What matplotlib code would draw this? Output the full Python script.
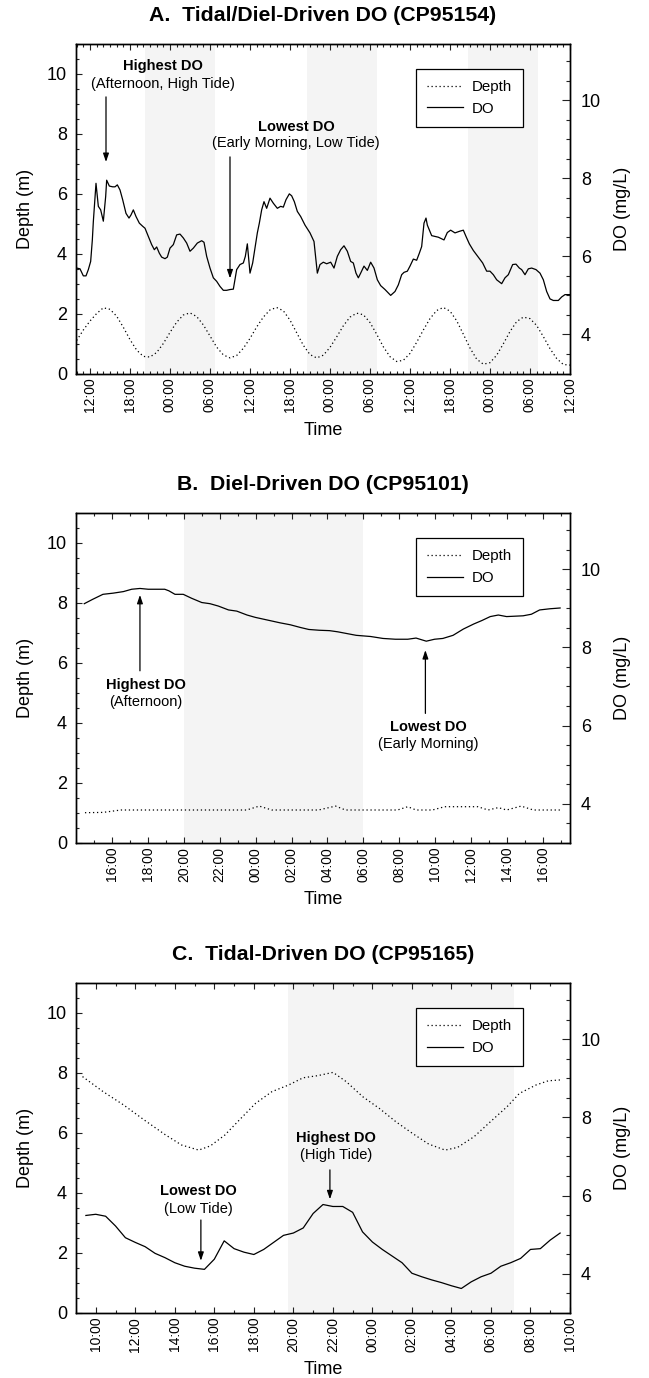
import numpy as np
import matplotlib
matplotlib.use("Agg")
import matplotlib.pyplot as plt
from matplotlib.ticker import MultipleLocator, FixedLocator
from matplotlib.lines import Line2D

plt.rcParams["font.family"] = ["Liberation Sans", "DejaVu Sans"]

# ---------------- Panel A: tidal/diel-driven (CP95154) ----------------
# hours relative to 12:00 on day 1
a_depth_hours = list(range(-2, 73))
a_depth = [1.10, 1.45, 1.75, 2.00, 2.19, 2.14, 1.91, 1.54, 1.13, 0.78,
           0.57, 0.55, 0.70, 1.00, 1.37, 1.71, 1.95, 2.02, 1.90, 1.62,
           1.25, 0.88, 0.62, 0.52, 0.60, 0.84, 1.17, 1.55, 1.88, 2.12,
           2.20, 2.09, 1.78, 1.36, 0.94, 0.63, 0.52, 0.61, 0.87, 1.22,
           1.59, 1.88, 2.01, 1.96, 1.70, 1.31, 0.89, 0.56, 0.40, 0.44,
           0.67, 1.04, 1.45, 1.83, 2.10, 2.20, 2.08, 1.76, 1.31, 0.85,
           0.48, 0.31, 0.36, 0.61, 0.99, 1.40, 1.73, 1.88, 1.83, 1.60,
           1.23, 0.83, 0.50, 0.30, 0.28]
a_do_hours = [-2.0, -1.5, -1.0, -0.6, -0.25, 0.1, 0.35, 0.5, 0.9, 1.25,
              1.6, 2.0, 2.35, 2.5, 2.9, 3.4, 3.75, 4.1, 4.5, 4.9,
              5.4, 5.85, 6.15, 6.5, 6.9, 7.4, 7.9, 8.25, 8.75, 9.25,
              9.65, 10.0, 10.4, 10.75, 11.25, 11.6, 12.0, 12.5, 13.0, 13.5,
              14.0, 14.5, 15.0, 15.5, 16.1, 16.75, 17.1, 17.5, 18.0, 18.5,
              19.0, 19.5, 20.0, 20.5, 21.0, 21.5, 22.0, 22.5, 23.0, 23.3,
              23.6, 24.0, 24.4, 24.75, 25.1, 25.4, 25.75, 26.1, 26.5, 27.0,
              27.5, 28.1, 28.6, 29.0, 29.4, 29.9, 30.25, 30.65, 31.1, 31.6,
              32.25, 33.0, 33.6, 34.1, 34.5, 35.0, 35.5, 36.1, 36.6, 37.1,
              37.6, 38.1, 38.6, 39.1, 39.5, 39.9, 40.25, 40.6, 41.1, 41.6,
              42.1, 42.6, 43.1, 43.6, 44.25, 45.1, 45.75, 46.25, 46.75, 47.1,
              47.6, 48.0, 48.5, 49.0, 49.4, 49.75, 50.1, 50.4, 50.6, 51.25,
              52.25, 53.1, 53.6, 54.1, 54.75, 55.4, 56.0, 56.4, 56.9, 57.5,
              58.25, 58.9, 59.5, 60.0, 60.5, 61.0, 61.75, 62.25, 62.75, 63.4,
              63.9, 64.4, 64.75, 65.25, 65.75, 66.25, 66.9, 67.5, 68.0, 68.5,
              69.0, 69.5, 70.25, 70.75, 71.25, 72.0]
a_do = [5.70, 5.68, 5.50, 5.50, 5.66, 5.87, 6.42, 6.89, 7.87, 7.28,
        7.19, 6.90, 7.53, 7.95, 7.80, 7.78, 7.78, 7.83, 7.70, 7.45,
        7.10, 6.98, 7.06, 7.19, 7.02, 6.85, 6.77, 6.72, 6.51, 6.30,
        6.17, 6.24, 6.08, 5.98, 5.94, 5.98, 6.21, 6.30, 6.55, 6.57,
        6.47, 6.34, 6.13, 6.21, 6.34, 6.40, 6.36, 6.00, 5.70, 5.45,
        5.36, 5.23, 5.13, 5.13, 5.15, 5.16, 5.66, 5.79, 5.83, 6.00,
        6.32, 5.57, 5.83, 6.21, 6.60, 6.85, 7.19, 7.40, 7.23, 7.49,
        7.36, 7.23, 7.28, 7.26, 7.45, 7.60, 7.55, 7.40, 7.15, 7.02,
        6.80, 6.60, 6.38, 5.57, 5.79, 5.85, 5.81, 5.85, 5.70, 6.00,
        6.17, 6.27, 6.13, 5.87, 5.83, 5.57, 5.45, 5.57, 5.75, 5.64,
        5.85, 5.70, 5.40, 5.25, 5.15, 5.00, 5.10, 5.27, 5.53, 5.59,
        5.62, 5.75, 5.93, 5.90, 6.08, 6.25, 6.85, 6.98, 6.80, 6.53,
        6.49, 6.42, 6.61, 6.67, 6.60, 6.64, 6.67, 6.51, 6.32, 6.15,
        5.98, 5.83, 5.62, 5.62, 5.53, 5.40, 5.30, 5.45, 5.53, 5.79,
        5.80, 5.70, 5.66, 5.53, 5.68, 5.70, 5.66, 5.57, 5.40, 5.10,
        4.91, 4.87, 4.87, 4.96, 5.02, 5.02]
a_nights = [(8.25, 18.75), (32.5, 43.1), (56.75, 67.25)]
a_ticks = list(range(0, 73, 6))
a_tick_labels = ["12:00", "18:00", "00:00", "06:00"] * 3 + ["12:00"]

# ---------------- Panel B: diel-driven (CP95101) ----------------
# hours relative to 16:00 on day 1
b_depth_hours = [-1.5, -0.5, 0.5, 1.5, 2.5, 3.5, 4.5, 5.5, 6.5, 7.5,
                 8.2, 8.9, 9.5, 10.5, 11.5, 12.45, 13.0, 14.0, 15.0, 15.9,
                 16.47, 16.93, 17.84, 18.53, 19.5, 20.37, 20.94, 21.51, 21.97,
                 22.78, 23.46, 24.5, 25.0]
b_depth = [1.00, 1.01, 1.09, 1.09, 1.09, 1.09, 1.09, 1.09, 1.09, 1.09,
           1.22, 1.09, 1.09, 1.09, 1.09, 1.22, 1.09, 1.09, 1.09, 1.09,
           1.20, 1.09, 1.09, 1.20, 1.20, 1.20, 1.09, 1.17, 1.09,
           1.22, 1.09, 1.09, 1.09]
b_do_hours = [-1.54, -1.08, -0.5, 0.07, 0.64, 1.1, 1.56, 2.02, 2.94, 3.17,
              3.51, 3.97, 4.43, 5.0, 5.46, 5.92, 6.49, 6.95, 7.52, 7.98,
              8.67, 9.36, 9.93, 10.5, 10.96, 11.54, 12.11, 12.57, 13.14, 13.6,
              14.4, 15.09, 15.78, 16.47, 16.93, 17.5, 17.96, 18.42, 18.99, 19.56,
              20.14, 20.6, 21.06, 21.51, 21.97, 22.89, 23.35, 23.81, 24.38, 24.95]
b_do = [9.12, 9.23, 9.36, 9.39, 9.43, 9.49, 9.51, 9.49, 9.49, 9.45,
        9.36, 9.36, 9.26, 9.15, 9.12, 9.06, 8.96, 8.93, 8.83, 8.77,
        8.70, 8.63, 8.58, 8.51, 8.46, 8.44, 8.43, 8.40, 8.35, 8.31,
        8.28, 8.23, 8.21, 8.21, 8.24, 8.16, 8.21, 8.23, 8.31, 8.47,
        8.60, 8.69, 8.79, 8.83, 8.79, 8.81, 8.85, 8.96, 8.99, 9.01]
b_nights = [(4.0, 14.0)]
b_ticks = list(range(0, 25, 2))
b_tick_labels = ["16:00", "18:00", "20:00", "22:00", "00:00", "02:00", "04:00",
                 "06:00", "08:00", "10:00", "12:00", "14:00", "16:00"]

# ---------------- Panel C: tidal-driven (CP95165) ----------------
# hours relative to 10:00 on day 1
c_depth_hours = [-0.67, 0.37, 1.42, 2.46, 3.5, 4.34, 5.21, 5.8, 6.53, 7.26,
                 8.09, 8.92, 9.76, 10.49, 11.22, 12.01, 12.68, 13.51, 14.35, 15.18,
                 16.02, 16.85, 17.68, 18.31, 19.15, 19.98, 20.82, 21.44, 22.28,
                 22.9, 23.53]
c_depth = [7.87, 7.37, 6.92, 6.42, 5.94, 5.59, 5.42, 5.56, 5.92, 6.42,
           6.98, 7.37, 7.59, 7.83, 7.90, 8.01, 7.70, 7.20, 6.81, 6.37,
           5.98, 5.62, 5.42, 5.51, 5.87, 6.37, 6.87, 7.31, 7.59,
           7.73, 7.76]
c_do_hours = np.arange(-0.5, 23.6, 0.5)  # half-hourly logger readings
c_do = [5.49, 5.52, 5.47, 5.22, 4.92, 4.80, 4.69, 4.52, 4.41, 4.28,
        4.19, 4.14, 4.11, 4.37, 4.84, 4.64, 4.55, 4.49, 4.62, 4.80,
        4.98, 5.04, 5.17, 5.54, 5.77, 5.72, 5.72, 5.57, 5.07, 4.81,
        4.62, 4.45, 4.28, 4.01, 3.92, 3.84, 3.77, 3.69, 3.62, 3.79,
        3.92, 4.01, 4.19, 4.28, 4.39, 4.62, 4.64, 4.86, 5.04]
c_nights = [(9.72, 21.17)]
c_ticks = list(range(0, 25, 2))
c_tick_labels = ["10:00", "12:00", "14:00", "16:00", "18:00", "20:00", "22:00",
                 "00:00", "02:00", "04:00", "06:00", "08:00", "10:00"]

DEPTH_LIM = (0, 11)
DO_LIM = (3.0, 11.45)
NIGHT = "#f4f4f4"
DOTS = (0, (1, 2.2))


def draw_panel(ax, title, xlim, ticks, tick_labels, nights,
               d_hours, depth, o_hours, do, notes):
    for start, end in nights:
        ax.axvspan(start, end, color=NIGHT, lw=0, zorder=0)
    ax.plot(d_hours, depth, color="black", lw=0.9, linestyle=DOTS, zorder=2)
    ax.set_xlim(*xlim)
    ax.set_ylim(*DEPTH_LIM)

    ax2 = ax.twinx()
    ax2.plot(o_hours, do, color="black", lw=0.9, zorder=3)
    ax2.set_ylim(*DO_LIM)

    ax.xaxis.set_major_locator(FixedLocator(ticks))
    ax.set_xticklabels(tick_labels, rotation=90, fontsize=10)
    ax.xaxis.set_minor_locator(MultipleLocator(1))
    ax.yaxis.set_major_locator(MultipleLocator(2))
    ax.yaxis.set_minor_locator(MultipleLocator(0.5))
    ax2.yaxis.set_major_locator(FixedLocator([4, 6, 8, 10]))
    ax2.yaxis.set_minor_locator(MultipleLocator(0.5))

    ax.tick_params(which="both", direction="in", top=True, right=False,
                   width=0.8, color="#222222")
    ax.tick_params(axis="x", which="major", length=4, pad=3)
    ax.tick_params(axis="x", which="minor", length=2.5)
    ax.tick_params(axis="y", which="major", length=4.5, labelsize=13, pad=6.5)
    ax.tick_params(axis="y", which="minor", length=2.5)
    ax2.tick_params(which="both", direction="in", width=0.8, color="#222222")
    ax2.tick_params(which="major", length=6, labelsize=13, pad=8)
    ax2.tick_params(which="minor", length=3)

    for a in (ax, ax2):
        for s in a.spines.values():
            s.set_linewidth(1.0)

    ax.set_ylabel("Depth (m)", fontsize=13)
    ax.yaxis.set_label_coords(-0.103, 0.5)
    ax.yaxis.label.set_verticalalignment("center")
    ax2.set_ylabel("DO (mg/L)", fontsize=13)
    ax2.yaxis.set_label_coords(1.107, 0.5)
    ax2.yaxis.label.set_verticalalignment("center")
    ax.set_xlabel("Time", fontsize=13)
    ax.xaxis.set_label_coords(0.5, -0.172)
    ax.xaxis.label.set_verticalalignment("center")

    ax.text(0.5, 1.085, title, transform=ax.transAxes, ha="center",
            va="center", fontsize=15.3, fontweight="bold")

    for head, sub, tx, ty, ty2, tail, tip in notes:
        ax.text(tx, ty, head, ha="center", va="center", fontsize=10.5,
                fontweight="bold", zorder=5)
        ax.text(tx, ty2, sub, ha="center", va="center", fontsize=10.5, zorder=5)
        ax.annotate("", xy=tip, xytext=tail,
                    arrowprops=dict(arrowstyle="-|>,head_length=0.5,head_width=0.17",
                                    color="black", lw=0.9, shrinkA=0, shrinkB=0,
                                    mutation_scale=10), zorder=5)

    handles = [Line2D([], [], color="black", lw=0.9, linestyle=DOTS),
               Line2D([], [], color="black", lw=0.9)]
    leg = ax2.legend(handles, ["Depth", "DO"], loc="upper left",
                     bbox_to_anchor=(0.688, 0.923), borderaxespad=0,
                     fontsize=10.8, handlelength=2.4, handletextpad=0.55,
                     labelspacing=0.5, borderpad=0.75, fancybox=False,
                     edgecolor="black", framealpha=1)
    leg.get_frame().set_linewidth(0.9)
    leg.set_zorder(10)
    return ax2


fig = plt.figure(figsize=(6.49, 13.78), dpi=100)
left, width, height = 76 / 649, 494 / 649, 330 / 1378
ax_a = fig.add_axes([left, 1 - 373.5 / 1378, width, height])
ax_b = fig.add_axes([left, 1 - 842.7 / 1378, width, height])
ax_c = fig.add_axes([left, 1 - 1312.7 / 1378, width, height])

draw_panel(ax_a, "A.  Tidal/Diel-Driven DO (CP95154)", (-2.1, 72),
           a_ticks, a_tick_labels, a_nights, a_depth_hours, a_depth,
           a_do_hours, a_do,
           [("Highest DO", "(Afternoon, High Tide)", 10.9, 10.24, 9.64,
             (2.4, 9.22), (2.4, 7.05)),
            ("Lowest DO", "(Early Morning, Low Tide)", 30.9, 8.22, 7.67,
             (21.0, 7.22), (21.0, 3.17))])

draw_panel(ax_b, "B.  Diel-Driven DO (CP95101)", (-2, 25.5),
           b_ticks, b_tick_labels, b_nights, b_depth_hours, b_depth,
           b_do_hours, b_do,
           [("Highest DO", "(Afternoon)", 1.9, 5.26, 4.70,
             (1.56, 5.73), (1.56, 8.26)),
            ("Lowest DO", "(Early Morning)", 17.6, 3.87, 3.28,
             (17.45, 4.31), (17.45, 6.42))])

draw_panel(ax_c, "C.  Tidal-Driven DO (CP95165)", (-1, 24),
           c_ticks, c_tick_labels, c_nights, c_depth_hours, c_depth,
           c_do_hours, c_do,
           [("Highest DO", "(High Tide)", 12.16, 5.81, 5.26,
             (11.85, 4.76), (11.85, 3.78)),
            ("Lowest DO", "(Low Tide)", 5.17, 4.07, 3.45,
             (5.32, 3.09), (5.32, 1.73))])

fig.savefig("out.png", dpi=100, facecolor="white")
